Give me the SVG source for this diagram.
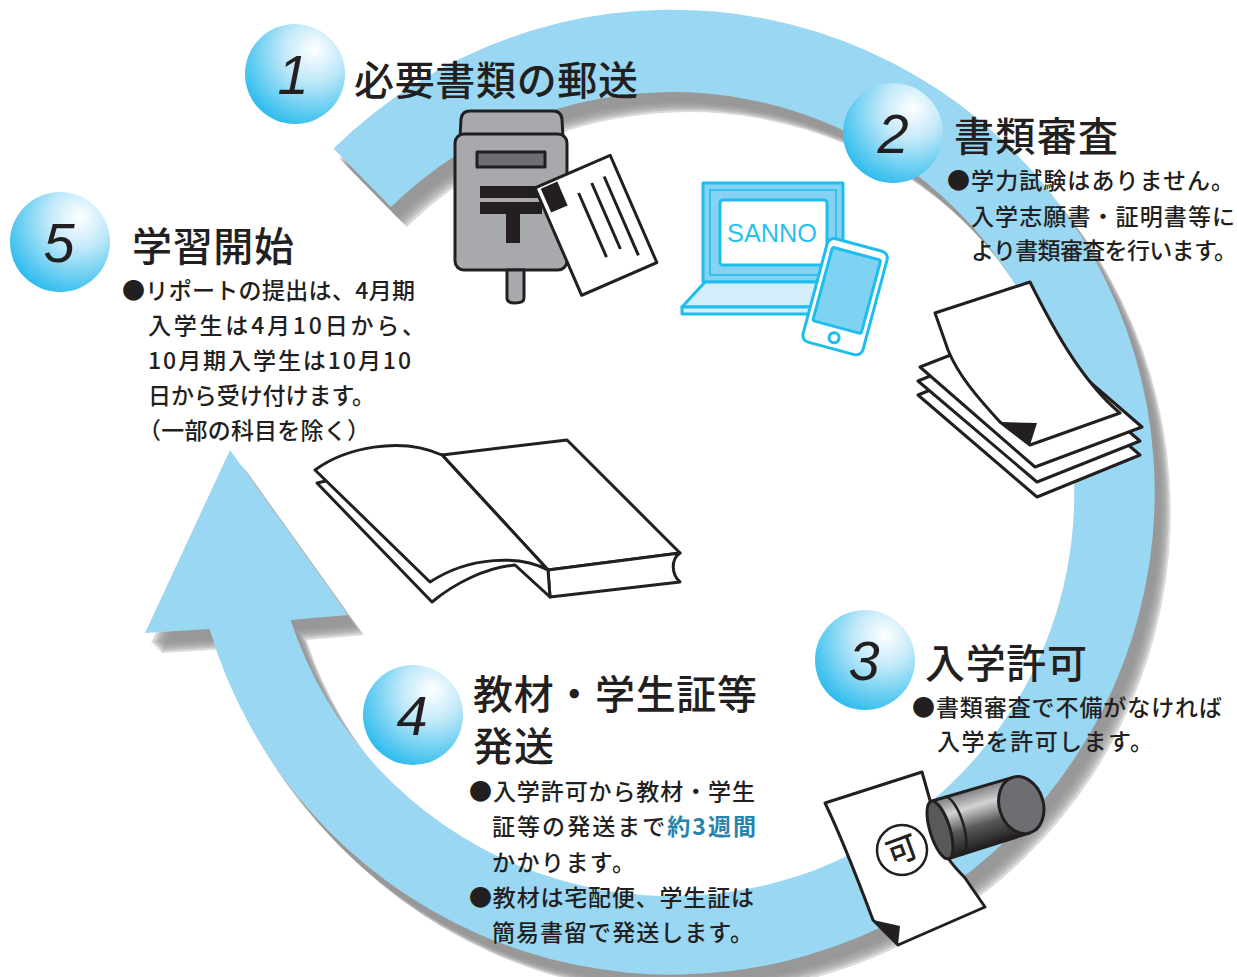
<svg xmlns="http://www.w3.org/2000/svg" width="1237" height="977" viewBox="0 0 1237 977">
  <defs>
    <radialGradient id="ball" cx="0.66" cy="0.3" r="0.85" fx="0.7" fy="0.25">
      <stop offset="0" stop-color="#ffffff"/>
      <stop offset="0.35" stop-color="#c2e9f9"/>
      <stop offset="1" stop-color="#10b3eb"/>
    </radialGradient>
    <linearGradient id="stampBody" gradientUnits="userSpaceOnUse" x1="0" y1="-29" x2="0" y2="29">
      <stop offset="0" stop-color="#808285"/>
      <stop offset="0.28" stop-color="#d1d3d4"/>
      <stop offset="0.62" stop-color="#58595b"/>
      <stop offset="1" stop-color="#231f20"/>
    </linearGradient>
    <path id="ring" d="M333.5,148.5 A482.5,482.5 0 1 1 209.5,629 L145,633 L230,450 L348,615 L290.5,620 A402,402 0 1 0 390.9,207 Z"/>
    <style>
      .ball { fill: url(#ball); }
      .num { font-family: "Liberation Sans", Arial, sans-serif; font-style: italic; font-size: 56px; fill: #231f20; text-anchor: middle; }
      .title { font-family: "Noto Sans CJK JP", sans-serif; font-weight: 500; font-size: 40px; fill: #231f20; }
      .body { font-family: "Noto Sans CJK JP", sans-serif; font-weight: 500; font-size: 23px; fill: #231f20; }
      .accent { fill: #2783ad; font-weight: 700; }
      .ink { stroke: #231f20; stroke-width: 3; stroke-linejoin: round; }
      .paper { fill: #ffffff; stroke: #231f20; stroke-width: 3; stroke-linejoin: round; }
      .cyan { stroke: #1dbdee; stroke-width: 3; stroke-linejoin: round; }
      .shade { fill: #8f8f8f; fill-opacity: 0.33; }
    </style>
  </defs>

  <rect width="1237" height="977" fill="#ffffff"/>

  <!-- circular flow arrow with a stepped soft shadow -->
  <g id="connectors">
    <use href="#ring" class="shade" transform="translate(16,20)"/>
    <use href="#ring" class="shade" transform="translate(14,18)"/>
    <use href="#ring" class="shade" transform="translate(12,16)"/>
    <use href="#ring" class="shade" transform="translate(10,14)"/>
    <use href="#ring" class="shade" transform="translate(8,12)"/>
    <use href="#ring" class="shade" transform="translate(6,10)"/>
    <use href="#ring" fill="#99d7f3"/>
  </g>

  <!-- step 1: mailing documents -->
  <g id="step1">
    <circle class="ball" cx="295" cy="74" r="50"/>
    <text class="num" x="293" y="94">1</text>
    <text class="title" x="354" y="95" textLength="284">必要書類の郵送</text>
    <!-- post box -->
    <path class="ink" fill="#a7a9ac" d="M460,138 L461,119 Q462,111 470,111 L553,111 Q561,111 562,119 L563,138 Z"/>
    <rect class="ink" fill="#a7a9ac" x="455" y="134" width="112" height="136" rx="9"/>
    <rect class="ink" fill="#6d6e71" stroke-width="2.5" x="477" y="152" width="68" height="15"/>
    <rect fill="#231f20" x="480" y="186" width="62" height="12"/>
    <rect fill="#231f20" x="480" y="202" width="62" height="12"/>
    <rect fill="#231f20" x="506" y="213" width="14" height="30"/>
    <path class="ink" fill="#a7a9ac" d="M507,270 L507,298 Q507,303 515,303 Q524,303 524,298 L524,270 Z"/>
    <!-- post card -->
    <g transform="translate(535,188) rotate(-23.5)">
      <rect class="paper" x="0" y="0" width="82" height="117"/>
      <rect fill="#231f20" x="5" y="3" width="18" height="26"/>
      <path class="ink" fill="none" d="M38,22 L38,92 M54,18 L54,90 M68,17 L68,103"/>
    </g>
  </g>

  <!-- step 2: document screening -->
  <g id="step2">
    <circle class="ball" cx="893" cy="133" r="50"/>
    <text class="num" x="893" y="153">2</text>
    <text class="title" x="954" y="151" textLength="164">書類審査</text>
    <text class="body" x="947" y="189" textLength="287">●学力試験はありません。</text>
    <text class="body" x="971" y="225" textLength="264">入学志願書・証明書等に</text>
    <text class="body" x="971" y="259" textLength="266">より書類審査を行います。</text>
    <!-- laptop -->
    <rect class="cyan" fill="#86d2f2" x="703" y="183" width="140" height="99"/>
    <rect fill="none" stroke="#1dbdee" stroke-width="1.5" x="710" y="190" width="126" height="85"/>
    <rect class="cyan" fill="#ffffff" x="720" y="200" width="107" height="65" rx="3"/>
    <text x="772" y="242" font-family="'Liberation Sans', Arial, sans-serif" font-size="26" fill="#29c0ef" text-anchor="middle" textLength="90" lengthAdjust="spacingAndGlyphs">SANNO</text>
    <path class="cyan" fill="#d3eefb" d="M705,282 L845,282 L868,307 L682,307 Z"/>
    <rect class="cyan" fill="#d3eefb" x="682" y="307" width="186" height="7"/>
    <!-- smartphone -->
    <g transform="translate(829,237) rotate(15)">
      <rect class="cyan" fill="#ffffff" x="0" y="0" width="62" height="107" rx="7"/>
      <rect class="cyan" fill="#80d2f3" stroke-width="2.5" x="6" y="9" width="50" height="76" rx="2"/>
      <circle class="cyan" fill="#ffffff" stroke-width="2.5" cx="31" cy="96" r="5"/>
    </g>
    <!-- paper stack -->
    <path class="paper" d="M918,395 L1021,353 L1140,455 L1037,497 Z"/>
    <path class="paper" d="M918,381 L1021,339 L1140,441 L1037,482 Z"/>
    <path class="paper" d="M920,367 L1025,326 L1142,427 L1035,467 Z"/>
    <path class="paper" d="M935,313 L1030,282 C1050,322 1080,380 1120,413 L1030,445 L1000,422 C978,398 958,375 948,350 Z"/>
    <path fill="#231f20" d="M1000,422 L1037,423 L1030,445 Z"/>
  </g>

  <!-- step 3: admission -->
  <g id="step3">
    <circle class="ball" cx="865" cy="660" r="50"/>
    <text class="num" x="864" y="680">3</text>
    <text class="title" x="925" y="678" textLength="162">入学許可</text>
    <text class="body" x="912" y="716" textLength="310">●書類審査で不備がなければ</text>
    <text class="body" x="937" y="750" textLength="216">入学を許可します。</text>
    <!-- approved sheet -->
    <path class="paper" d="M825,803 L922,772 C930,800 938,830 945,852 C950,864 958,870 965,878 L985,907 L898,945 L873,920 C858,880 843,840 825,803 Z"/>
    <path fill="#231f20" d="M873,920 L900,926 L898,945 Z"/>
    <circle fill="none" stroke="#231f20" stroke-width="2.5" cx="902" cy="850" r="25"/>
    <text x="902" y="861" transform="rotate(-20 902 850)" font-family="'Noto Sans CJK JP', sans-serif" font-weight="500" font-size="31" fill="#231f20" text-anchor="middle">可</text>
    <!-- seal -->
    <g transform="translate(940,830) rotate(-17)">
      <path class="ink" fill="url(#stampBody)" d="M0,-30 L85,-29 L85,29 L0,30 Z"/>
      <ellipse class="ink" fill="#58595b" cx="0" cy="0" rx="10" ry="30"/>
      <path fill="none" stroke="#231f20" stroke-width="2.5" d="M14,-30 A10,30 0 0 1 14,30"/>
      <ellipse class="ink" fill="#6d6e71" cx="85" cy="0" rx="22" ry="29"/>
    </g>
  </g>

  <!-- step 4: shipping of materials -->
  <g id="step4">
    <circle class="ball" cx="413" cy="715" r="50"/>
    <text class="num" x="412" y="735">4</text>
    <text class="title" x="473" y="709" textLength="284">教材・学生証等</text>
    <text class="title" x="473" y="761" textLength="81">発送</text>
    <text class="body" x="469" y="800" textLength="286">●入学許可から教材・学生</text>
    <text class="body" x="492" y="835" textLength="264">証等の発送まで<tspan class="accent">約3週間</tspan></text>
    <text class="body" x="492" y="871" textLength="143">かかります。</text>
    <text class="body" x="469" y="906" textLength="285">●教材は宅配便、学生証は</text>
    <text class="body" x="492" y="941" textLength="261">簡易書留で発送します。</text>
    <!-- open book -->
    <path class="paper" d="M442,455 L567,440 L680,553 L548,570 Z"/>
    <path class="paper" d="M548,570 L680,553 C670,560 672,575 680,582 L550,597 Z"/>
    <path class="paper" d="M317,483 L432,602 C455,583 485,568 515,565 L550,597 L548,570 L442,455 Z"/>
    <path class="paper" d="M315,470 C345,448 400,436 442,455 L548,570 C520,555 470,556 430,582 Z"/>
  </g>

  <!-- step 5: start of study -->
  <g id="step5">
    <circle class="ball" cx="60" cy="242" r="50"/>
    <text class="num" x="59" y="262">5</text>
    <text class="title" x="132" y="261" textLength="162">学習開始</text>
    <text class="body" x="122" y="299" textLength="293">●リポートの提出は、4月期</text>
    <text class="body" x="148" y="334" textLength="277">入学生は4月10日から、</text>
    <text class="body" x="148" y="369" textLength="263">10月期入学生は10月10</text>
    <text class="body" x="148" y="404" textLength="227">日から受け付けます。</text>
    <text class="body" x="138" y="439" textLength="232">（一部の科目を除く）</text>
  </g>
</svg>
